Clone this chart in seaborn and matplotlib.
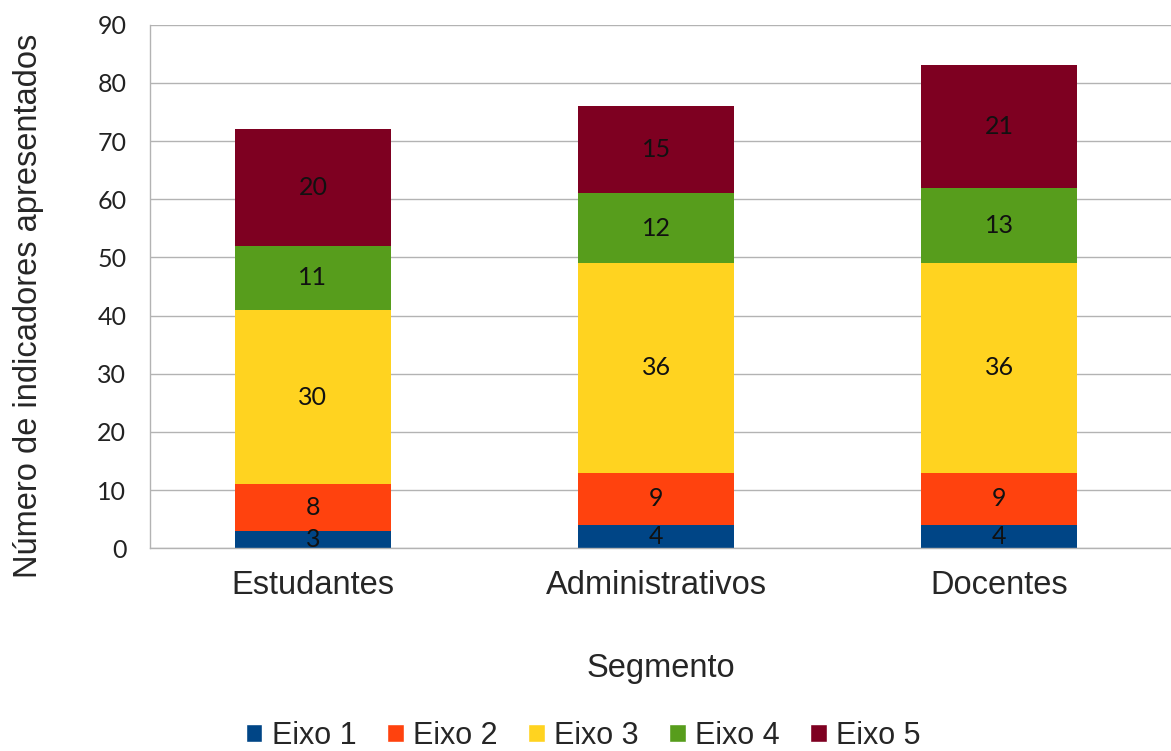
import matplotlib
matplotlib.use("Agg")
import matplotlib.pyplot as plt
from matplotlib.patches import Patch
import numpy as np
import pandas as pd
import seaborn as sns

# -- dados
segmentos = ["Estudantes", "Administrativos", "Docentes"]
eixos = ["Eixo 1", "Eixo 2", "Eixo 3", "Eixo 4", "Eixo 5"]
eixo1 = [3, 4, 4]
eixo2 = [8, 9, 9]
eixo3 = [30, 36, 36]
eixo4 = [11, 12, 13]
eixo5 = [20, 15, 21]
cores = ["#004586", "#FF420E", "#FFD320", "#579D1C", "#7E0021"]
y_ticks = [0, 10, 20, 30, 40, 50, 60, 70, 80, 90]

valores = np.array([eixo1, eixo2, eixo3, eixo4, eixo5])
acumulado = valores.cumsum(axis=0)

sns.set_style("white")
plt.rcParams['font.family'] = ['Liberation Sans', 'DejaVu Sans']

fig = plt.figure(figsize=(11.71, 7.51), dpi=100)
ax = fig.add_axes([0.128, 0.270, 0.872, 0.697])

# barras empilhadas: desenha do topo para a base (sobreposicao)
for i in range(len(eixos) - 1, -1, -1):
    df = pd.DataFrame({"segmento": segmentos, "valor": acumulado[i]})
    sns.barplot(data=df, x="segmento", y="valor", color=cores[i],
                width=0.455, saturation=1, linewidth=0, ax=ax, zorder=2)

# rotulos de dados no meio de cada segmento
for i in range(len(eixos)):
    for j in range(len(segmentos)):
        meio = acumulado[i, j] - valores[i, j] / 2
        ax.text(j, meio, str(valores[i, j]), ha="center", va="center",
                fontsize=18, family="Lato", color="#111111", zorder=3)

ax.set_ylim(0, 90)
ax.set_xlim(-0.475, 2.5)
ax.set_yticks(y_ticks)
ax.set_yticklabels([str(t) for t in y_ticks], family="Lato", fontsize=18,
                   color="#222222")
ax.yaxis.grid(True, color="#b3b3b3", linewidth=1, zorder=0)
ax.set_axisbelow(True)
ax.tick_params(axis="y", length=0, pad=17)
ax.tick_params(axis="x", length=0, pad=16, labelsize=23.5)
for s in ["top", "right"]:
    ax.spines[s].set_visible(False)
for s in ["left", "bottom"]:
    ax.spines[s].set_color("#b3b3b3")
    ax.spines[s].set_linewidth(1)

ax.set_xlabel("Segmento", fontsize=23.5, labelpad=37)
ax.set_ylabel("Número de indicadores apresentados", fontsize=23.5, labelpad=38)
ax.yaxis.label.set_y(0.463)

handles = [Patch(facecolor=c, label=e) for c, e in zip(cores, eixos)]
fig.legend(handles=handles, loc="center", bbox_to_anchor=(0.498, 0.02),
           ncol=5, frameon=False, fontsize=22, handlelength=0.55,
           handleheight=0.55, handletextpad=0.3, columnspacing=1.0)

fig.savefig("out.png", dpi=100)
